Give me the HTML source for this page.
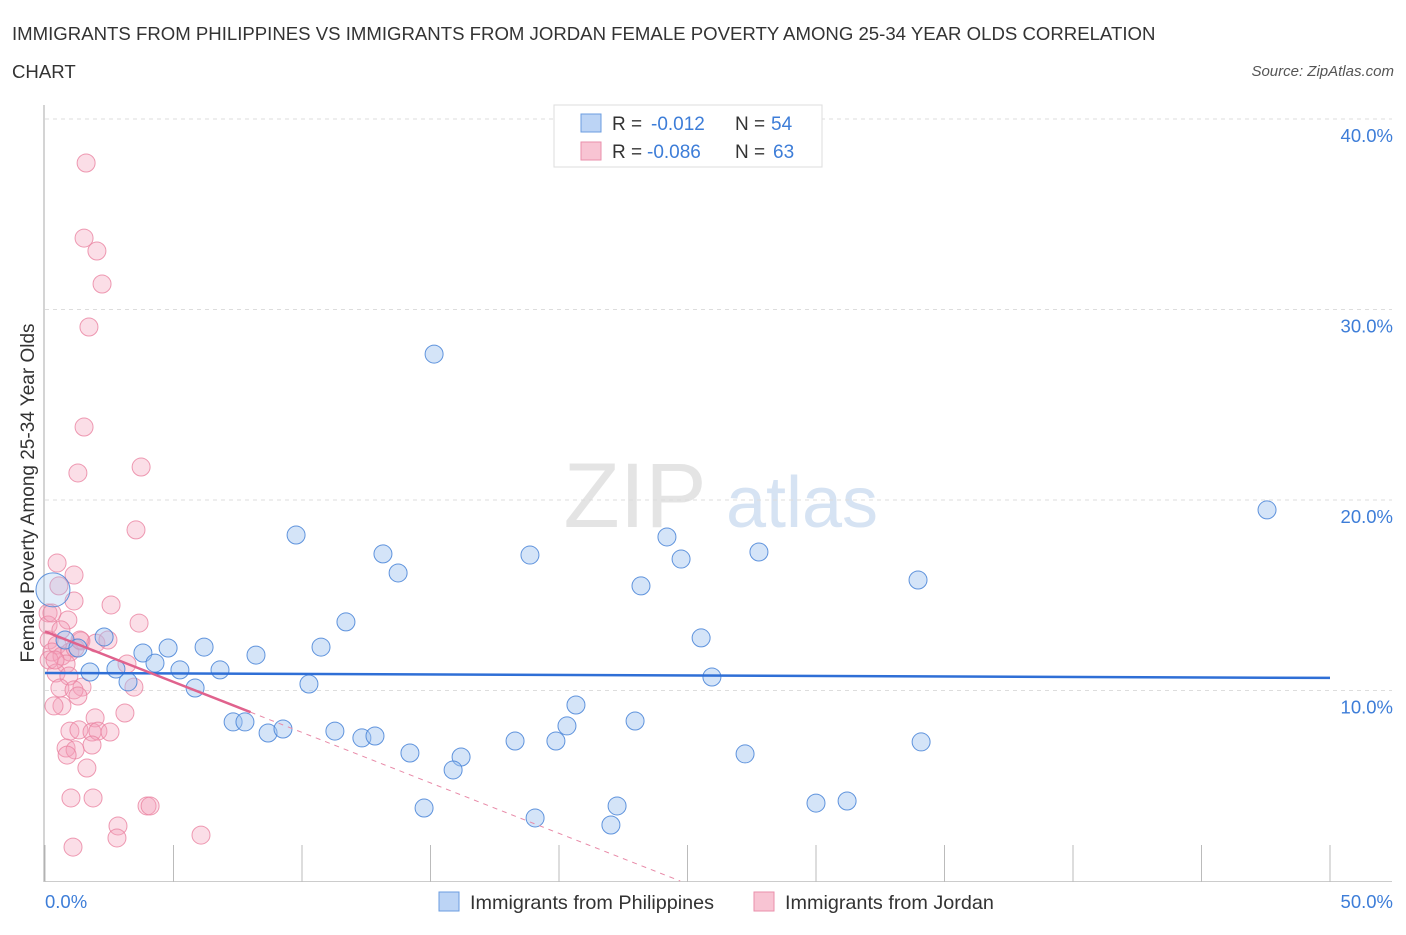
<!DOCTYPE html>
<html><head><meta charset="utf-8"><style>
body{margin:0;background:#fff;font-family:"Liberation Sans",sans-serif;}
svg text{font-family:"Liberation Sans",sans-serif;}
</style></head><body>
<svg id="chart" width="1406" height="930">
<text x="12" y="40" font-size="18.6" fill="#333">IMMIGRANTS FROM PHILIPPINES VS IMMIGRANTS FROM JORDAN FEMALE POVERTY AMONG 25-34 YEAR OLDS CORRELATION</text>
<text x="12" y="78" font-size="18.6" fill="#333">CHART</text>
<text x="1394" y="76" font-size="15" fill="#555" font-style="italic" text-anchor="end">Source: ZipAtlas.com</text>
<g>
<text x="635" y="527" font-size="92" fill="#e4e4e4" text-anchor="middle" font-family="Liberation Serif">ZIP</text>
<text x="802" y="527" font-size="72" fill="#d6e3f3" text-anchor="middle">atlas</text>
</g>
<g id="grid"></g>
<g id="axes"></g>
<g id="marks"></g>
<text x="34" y="493" font-size="19" fill="#333" text-anchor="middle" transform="rotate(-90 34 493)">Female Poverty Among 25-34 Year Olds</text>
<g>
<rect x="554" y="105" width="268" height="62" fill="#fff" stroke="#ddd"/>
<rect x="581" y="114" width="20" height="18" fill="#bcd4f5" stroke="#6b9de0"/>
<rect x="581" y="142" width="20" height="18" fill="#f8c4d3" stroke="#ea8fab"/>
<text x="612" y="130" font-size="19" fill="#333">R =</text><text x="651" y="130" font-size="19" fill="#3d7dd8">-0.012</text>
<text x="735" y="130" font-size="19" fill="#333">N =</text><text x="771" y="130" font-size="19" fill="#3d7dd8">54</text>
<text x="612" y="158" font-size="19" fill="#333">R =</text><text x="647" y="158" font-size="19" fill="#3d7dd8">-0.086</text>
<text x="735" y="158" font-size="19" fill="#333">N =</text><text x="773" y="158" font-size="19" fill="#3d7dd8">63</text>
</g>
<g>
<rect x="439" y="892" width="20" height="19" fill="#bcd4f5" stroke="#6b9de0"/>
<text x="470" y="909" font-size="19.8" fill="#333">Immigrants from Philippines</text>
<rect x="754" y="892" width="20" height="19" fill="#f8c4d3" stroke="#ea8fab"/>
<text x="785" y="909" font-size="19.8" fill="#333">Immigrants from Jordan</text>
</g>
</svg>
<script>
const yTicks=[10,20,30,40];
const yTickLabels=["10.0%","20.0%","30.0%","40.0%"];
const xTickLabels=["0.0%","50.0%"];
const phX=[15.14,47.55,9.77,13.15,18.87,24.2,24.75,27.78,13.74,23.19,33.97,0.31,11.71,2.30,25.53,0.78,1.28,3.81,4.79,6.19,8.21,10.74,4.28,1.75,2.76,5.25,6.81,3.23,5.84,10.27,25.95,20.66,7.32,7.78,8.68,9.26,11.28,12.33,12.84,14.2,16.19,15.88,18.29,19.88,20.31,22.96,27.24,34.09,14.75,19.07,22.26,22.02,30.0,31.21];
const phY=[27.66,19.48,18.16,17.17,17.11,18.06,16.9,17.27,16.17,15.49,15.8,15.28,13.6,12.81,12.76,12.65,12.23,11.97,12.23,12.28,11.86,12.28,11.44,10.97,11.13,11.08,11.08,10.45,10.13,10.34,10.71,9.24,8.35,8.35,7.77,7.98,7.87,7.51,7.61,6.72,6.51,5.83,7.35,7.35,8.14,8.4,6.67,7.30,3.83,3.31,3.94,2.94,4.09,4.2];
const joX=[1.60,1.52,2.02,2.22,1.71,1.52,1.28,3.74,3.54,0.47,1.13,0.54,1.13,2.57,0.12,0.89,3.66,0.16,1.40,1.98,0.47,0.27,0.66,0.97,0.16,0.82,3.19,0.43,0.93,0.58,1.44,1.13,1.28,3.46,0.66,0.35,1.95,3.11,0.97,1.32,1.83,2.06,2.53,0.82,1.17,0.86,1.83,1.63,1.01,1.87,2.84,2.80,3.97,4.09,6.07,1.09,0.12,0.27,1.17,0.62,0.39,2.45,1.36];
const joY=[37.69,33.75,33.07,31.34,29.08,23.83,21.42,21.73,18.43,16.69,16.06,15.49,14.7,14.49,14.07,13.7,13.54,12.65,12.6,12.49,12.39,12.02,11.81,12.02,11.6,11.39,11.39,10.92,10.76,10.13,10.18,10.03,9.71,10.18,9.19,9.19,8.56,8.82,7.87,7.93,7.82,7.87,7.82,6.98,6.88,6.61,7.14,5.93,4.36,4.36,2.89,2.26,3.94,3.94,2.41,1.78,13.44,14.07,12.23,13.18,11.6,12.65,12.65];
const phTrend=[10.92,10.66];
const joTrend=[13.1,-0.53];
const NS="http://www.w3.org/2000/svg";
const xs=v=>45+v*25.7, ys=v=>881-v*19.05;
function mk(t,a,p){const e=document.createElementNS(NS,t);for(const k in a)e.setAttribute(k,a[k]);p.appendChild(e);return e;}
const grid=document.getElementById('grid'),axes=document.getElementById('axes'),marks=document.getElementById('marks');
yTicks.forEach((t,i)=>{
 const l=mk('line',{x1:45,x2:1392,y1:ys(t),y2:ys(t),stroke:'#ddd','stroke-dasharray':'4,4'},grid);
 
 
 const tx=mk('text',{x:1393,y:ys(t)+23,'font-size':18.5,fill:'#3d7dd8','text-anchor':'end'},axes);
 tx.textContent=yTickLabels[i];
 
 
});
let a=mk('line',{x1:44,x2:44,y1:105,y2:882,stroke:'#aaa'},axes);


a=mk('line',{x1:44,x2:1392,y1:881.5,y2:881.5,stroke:'#ccc'},axes);


for(let i=0;i<=10;i++){const t=mk('line',{x1:xs(i*5),x2:xs(i*5),y1:845,y2:882,stroke:'#bbb'},axes);
 
 }
[[0,'start',45],[50,'end',1393]].forEach((d,i)=>{const t=mk('text',{x:d[2],y:908,'font-size':18.5,fill:'#3d7dd8','text-anchor':d[1]},axes);t.textContent=xTickLabels[i];
 
 });
joX.forEach((x,i)=>{const c=mk('circle',{cx:xs(x),cy:ys(joY[i]),r:9,fill:'rgba(244,160,185,0.35)',stroke:'rgba(234,130,160,0.8)','stroke-width':1},marks);
 
 });
phX.forEach((x,i)=>{const c=mk('circle',{cx:xs(x),cy:ys(phY[i]),r:i==11?17:9,fill:i==11?'rgba(160,195,240,0.3)':'rgba(160,195,240,0.45)',stroke:'rgba(70,130,215,0.85)','stroke-width':1},marks);
 
 });
let l=mk('line',{x1:xs(0),y1:ys(phTrend[0]),x2:xs(50),y2:ys(phTrend[1]),stroke:'#2f6fd6','stroke-width':2.5},marks);


const xe=8, xz=-joTrend[0]/joTrend[1];
l=mk('line',{x1:xs(0),y1:ys(joTrend[0]),x2:xs(xe),y2:ys(joTrend[0]+joTrend[1]*xe),stroke:'#e0628d','stroke-width':2.5},marks);


l=mk('line',{x1:xs(xe),y1:ys(joTrend[0]+joTrend[1]*xe),x2:xs(xz),y2:ys(0),stroke:'#e88aa8','stroke-width':1,'stroke-dasharray':'5,5'},marks);


</script>
</body></html>
